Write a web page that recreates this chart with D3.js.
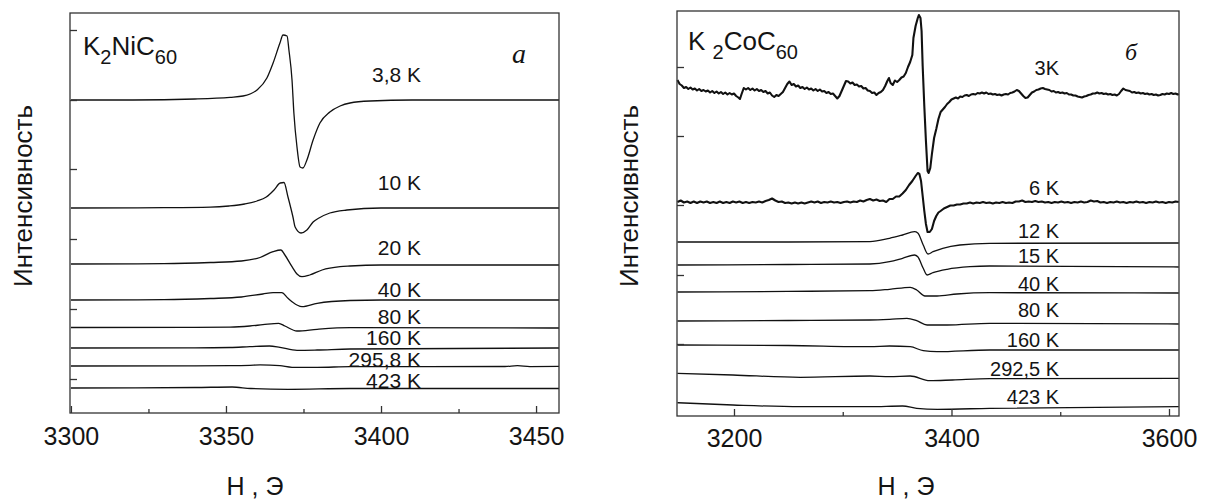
<!DOCTYPE html>
<html><head><meta charset="utf-8">
<script src="https://cdn.jsdelivr.net/npm/d3@7"></script>
<style>body{margin:0;background:#fff} svg{display:block}</style>
</head><body>
<svg id="c" width="1211" height="500"></svg>
<script>
// ---------- Panel a: K2NiC60 ----------
const niLabels = ["3,8 K","10 K","20 K","40 K","80 K","160 K","295,8 K","423 K"];
const ni_3_8 = [[3300,313],[3320,313],[3340,314],[3351.3,315.7],[3355.5,317],[3360,323],[3363.2,335],[3365.2,350],[3367.4,370],[3368.4,378],[3369.7,377],[3370.3,363],[3371.3,333],[3371.9,300],[3372.9,266],[3373.9,246],[3374.8,245],[3376.1,253],[3378.1,273],[3380.3,290],[3383.5,301],[3386.8,307],[3390,310],[3396.5,312],[3410,313],[3457.4,313]];
const ni_10 = [[3300,205],[3330,205.3],[3345,205.8],[3351,207],[3356,209],[3360,212],[3363,216],[3365.5,223],[3367.5,230],[3368.7,230.5],[3370,216],[3371.6,196],[3372.3,186],[3374.2,180],[3376.1,183],[3378.1,191],[3380,195],[3383.5,200],[3389,203],[3400,205],[3457.4,205]];
const ni_20 = [[3300,149],[3330,149.3],[3345,150.5],[3355,152],[3361,155.5],[3365.2,161.3],[3367.7,163],[3369,158],[3371.3,146.3],[3372.9,139],[3374.5,136.3],[3377,138],[3381,143],[3386.8,146.3],[3390,147],[3400,148],[3457.4,148]];
const ni_40 = [[3300,113],[3330,113.3],[3345,114.5],[3355,116],[3361.9,119],[3365.2,120.3],[3368,120.3],[3370,114.7],[3372.9,108],[3374.5,106.3],[3379.4,109.7],[3390,112.5],[3400,113],[3457.4,113]];
const ni_80 = [[3300,85.5],[3340,85.6],[3351.3,85.9],[3357.7,87],[3361.9,88.3],[3367,89.7],[3369,87],[3372.9,82],[3379.4,83.7],[3390,85.3],[3457.4,85]];
const ni_160 = [[3300,65],[3340,65.1],[3351.3,65.5],[3357.7,66.3],[3364,67],[3367.4,65.7],[3372.9,62.7],[3379.4,63],[3390,64],[3457.4,65]];
const ni_295 = [[3300,47],[3340,47.1],[3351.3,47.3],[3357.7,47.7],[3361,48.1],[3367.4,47.3],[3371.3,45.7],[3379.4,45.7],[3390,46.3],[3440,46.5],[3444,47.3],[3448,46.4],[3457.4,46.6]];
const ni_423 = [[3300,25],[3340,25.5],[3352,26],[3358,24.5],[3370,23.7],[3390,24.5],[3457.4,24.5]];
const niSeries = [ni_3_8, ni_10, ni_20, ni_40, ni_80, ni_160, ni_295, ni_423];
const niXTicks = [3300, 3350, 3400, 3450];
const niXMinor = [3325, 3375, 3425];
const niYTicks = [34, 104, 174, 244, 313, 383];

// ---------- Panel б: K2CoC60 ----------
const coLabels = ["3K","6 K","12 K","15 K","40 K","80 K","160 K","292,5 K","423 K"];
const co_3 = [[3148,336],[3150,332],[3152,330.5],[3154,328],[3156,329],[3158,327],[3160,328.5],[3162,326.5],[3164,327.5],[3166,325.5],[3168,327],[3170,325],[3172,326],[3174,324.5],[3176,325.5],[3178,323.5],[3180,325],[3182,323],[3184,324.5],[3186,322.5],[3188,324],[3190,322],[3192,323.5],[3194,321.5],[3196,323],[3198,321.5],[3200,322.5],[3202,320],[3204,318.5],[3205.5,317],[3207,322],[3209,328],[3211,326.5],[3213,328],[3215,326],[3217,327.5],[3219,325.5],[3221,327],[3223,325],[3225,326],[3227,324],[3229,325],[3231,322.5],[3233,323.5],[3235,320.5],[3237,319],[3239,321],[3241,320],[3243,322],[3245,324],[3247,328],[3249,332],[3251,334.5],[3253,331],[3255,332],[3257,329.5],[3259,330.5],[3261,328],[3263,329],[3265,327],[3267,328.5],[3269,326.5],[3271,327.5],[3273,325.5],[3275,327],[3277,325],[3279,326.5],[3281,324.5],[3283,325],[3285,323],[3287,324],[3289,322],[3291,322.5],[3293,320],[3295,317.5],[3297,320],[3299,325],[3301,330],[3303,335],[3305,334.5],[3307,332.5],[3309,333.5],[3311,331],[3313,331.5],[3315,329.5],[3317,330],[3319,327.5],[3321,328],[3323,325.5],[3325,325],[3327,323],[3329,323.5],[3331,321],[3333,323],[3335,324],[3337,326],[3339,330],[3341,335],[3342.5,338],[3344,333],[3346,331],[3348,335.5],[3350,334],[3352,336],[3354,338.5],[3356,339.5],[3358,343],[3360,349],[3362,354],[3364,361],[3365,378],[3367,390],[3369,398],[3370,401],[3371.5,398],[3372.5,385],[3373.5,350],[3375,310],[3376.5,275],[3378,245],[3379,243],[3380.5,248],[3382,262],[3384,278],[3386,287],[3388,297],[3390,304],[3392,306.5],[3394,309],[3396,312],[3398,314],[3400,316.5],[3402,317.5],[3404,318.5],[3406,317.5],[3408,319.5],[3410,319],[3412,320.5],[3414,321],[3416,320],[3418,321.5],[3420,322],[3422,321.5],[3424,323],[3426,322.5],[3428,323.5],[3430,322.5],[3432,323.5],[3434,322],[3436,322.5],[3438,321.5],[3440,322],[3442,321],[3444,321.5],[3446,320.5],[3448,321.5],[3450,322],[3452,321.5],[3454,323],[3456,323.5],[3458,324.5],[3460,326],[3462,325],[3464,322.5],[3466,320],[3468,318],[3470,318.5],[3472,321],[3474,323.5],[3476,324.5],[3478,326],[3480,326.5],[3482,327.5],[3484,328],[3486,327],[3488,326.5],[3490,326],[3492,324.5],[3494,325],[3496,323.5],[3498,324],[3500,323],[3502,323.5],[3504,322.5],[3506,323],[3508,321.5],[3510,321.5],[3512,320.5],[3514,320.5],[3516,319.5],[3518,319],[3520,318.5],[3522,319.5],[3524,320],[3526,321],[3528,321.5],[3530,322.5],[3532,322.5],[3534,323.5],[3536,322.5],[3538,323],[3540,322],[3542,322.5],[3544,321.5],[3546,322],[3548,321],[3550,321.5],[3552,320.5],[3554,322],[3556,325],[3558,327.5],[3560,326],[3562,325.5],[3564,325],[3566,323.5],[3568,324],[3570,323],[3572,323.5],[3574,322.5],[3576,323],[3578,322],[3580,322.5],[3582,321.5],[3584,322],[3586,321],[3588,321.5],[3590,320.5],[3592,321],[3594,322],[3596,321.5],[3598,322.5],[3600,322],[3602,323],[3604,322],[3606,322.5],[3608,321.5],[3609,322]];
const co_6 = [[3148,214],[3151,215.5],[3154,213.5],[3157,214.5],[3160,213],[3163,214.5],[3166,213],[3169,214.5],[3172,213.5],[3175,214.5],[3178,213],[3181,214],[3184,213],[3187,214.5],[3190,213],[3193,214],[3196,213],[3199,214.5],[3202,213.5],[3205,214.5],[3208,213],[3211,214],[3214,213],[3217,214],[3220,213.5],[3223,214.5],[3226,213.5],[3229,215],[3232,216],[3235,217.5],[3238,215.5],[3241,214],[3244,214.5],[3247,213],[3250,213.5],[3253,212.5],[3256,213.5],[3259,212.5],[3262,213.5],[3265,212.5],[3268,213.5],[3271,214.5],[3274,213.5],[3277,214.5],[3280,213],[3283,214],[3286,213.5],[3289,214.5],[3292,213.5],[3295,214],[3298,213],[3301,214],[3304,214.5],[3307,213.5],[3310,214.5],[3313,214],[3316,215.5],[3319,214.5],[3322,216],[3325,217],[3328,215.5],[3331,216.5],[3334,215],[3337,215.5],[3340,214],[3343,217],[3346,217],[3349,219.5],[3352,219.5],[3355,222.5],[3358,226],[3361,231],[3364,235],[3367,240],[3369,243],[3370.5,242],[3372,235],[3373.5,220],[3375,205],[3376.5,192],[3378,184],[3380,184],[3382,187],[3384,195],[3386,200],[3388,203.5],[3390,205],[3393,207.5],[3396,209],[3399,210.5],[3402,210.5],[3405,211.5],[3408,211.5],[3411,212.5],[3414,212.5],[3417,213.5],[3420,212.5],[3423,213.5],[3426,213],[3429,214],[3432,213],[3435,213.5],[3438,212.5],[3441,213.5],[3444,213],[3447,214],[3450,213],[3453,213.5],[3456,213],[3459,214.5],[3462,214.5],[3465,215.5],[3468,214],[3471,214.5],[3474,214],[3477,215],[3480,214],[3483,214.5],[3486,213.5],[3489,214],[3492,213],[3495,214],[3498,213.5],[3501,214.5],[3504,213.5],[3507,214],[3510,213],[3513,214],[3516,213.5],[3519,214.5],[3522,213.5],[3525,214],[3528,215.5],[3531,214.5],[3534,215],[3537,213.5],[3540,214],[3543,213],[3546,214],[3549,213.5],[3552,214.5],[3555,213.5],[3558,214],[3561,213],[3564,214],[3567,213.5],[3570,214.5],[3573,213.5],[3576,214],[3579,213],[3582,214],[3585,213.5],[3588,214.5],[3591,213.5],[3594,214],[3597,213],[3600,214],[3603,213.5],[3606,214.5],[3609,214]];
const co_12 = [[3148,174],[3250,174],[3325,174.3],[3343,177.7],[3355,181],[3366,184.3],[3369,183],[3374,171],[3378.4,162],[3383,164.3],[3392,167.7],[3407.7,171],[3435,172.7],[3609,173]];
const co_15 = [[3148,151],[3250,151.5],[3325,152],[3343,154.3],[3355,157.7],[3366,161],[3369,159.3],[3374,147.7],[3377.5,141],[3383,143.3],[3396,146.7],[3417,149.3],[3435,150],[3609,149]];
const co_40 = [[3148,124],[3250,124.6],[3325,125.3],[3343,126.7],[3362,128.7],[3368,126],[3375.6,120],[3386.7,120],[3405,122],[3435,123.3],[3609,123]];
const co_80 = [[3148,95],[3250,95.5],[3325,96],[3343,96.7],[3359,97.7],[3368,95.3],[3377.5,91],[3396,91],[3435,92.7],[3609,92]];
const co_160 = [[3148,71],[3250,70.5],[3325,69.3],[3343,70],[3362,69.3],[3374,65.3],[3386.7,64.3],[3435,66],[3609,66]];
const co_292 = [[3148,42.7],[3199,41],[3261,38.7],[3325,40],[3343,39.3],[3362,40],[3380,35.3],[3401,36],[3435,37.3],[3609,37.7]];
const co_423 = [[3148,13.3],[3199,11],[3261,9.3],[3325,9.3],[3355,10],[3368,7.7],[3387,6.7],[3435,7.7],[3609,9.3]];
const coSeries = [co_3, co_6, co_12, co_15, co_40, co_80, co_160, co_292, co_423];
const coXTicks = [3200, 3400, 3600];
const coXMinor = [3300, 3500];
const coYTicks = [72, 141, 211, 280, 349];

const FONT = "'Liberation Sans', Arial, Helvetica, sans-serif";
const INK = "#141414";
const svg = d3.select("#c");

function panel(cfg) {
  const x = d3.scaleLinear().domain(cfg.xDomain).range([cfg.left, cfg.right]);
  const y = d3.scaleLinear().domain(cfg.yDomain).range([cfg.bottom, cfg.top]);
  const g = svg.append("g");

  cfg.series.forEach((s, i) => {
    const noisy = cfg.noisy.includes(i);
    const line = d3.line().x(d => x(d[0])).y(d => y(d[1]))
      .curve(noisy ? d3.curveLinear : d3.curveMonotoneX);
    g.append("path").datum(s).attr("d", line)
      .attr("fill", "none").attr("stroke", "#111")
      .attr("stroke-width", noisy ? 2.1 : 1.3)
      .attr("stroke-linejoin", "round");
  });

  g.append("rect").attr("x", cfg.left).attr("y", cfg.top)
    .attr("width", cfg.right - cfg.left).attr("height", cfg.bottom - cfg.top)
    .attr("fill", "none").attr("stroke", "#333").attr("stroke-width", 1.3);

  const xa = g.append("g").attr("transform", `translate(0,${cfg.bottom})`)
    .call(d3.axisBottom(x).tickValues(cfg.xTicks).tickSize(-7).tickPadding(cfg.tickPad).tickFormat(d3.format("d")));
  xa.select(".domain").remove();
  xa.selectAll("line").attr("stroke", "#333").attr("stroke-width", 1.3);
  xa.selectAll("text").attr("font-family", FONT).attr("font-size", 25).attr("fill", INK);
  const xm = g.append("g").attr("transform", `translate(0,${cfg.bottom})`)
    .call(d3.axisBottom(x).tickValues(cfg.xMinor).tickSize(-4).tickFormat(""));
  xm.select(".domain").remove();
  xm.selectAll("line").attr("stroke", "#333").attr("stroke-width", 1.3);

  const ya = g.append("g").attr("transform", `translate(${cfg.left},0)`)
    .call(d3.axisLeft(y).tickValues(cfg.yTicks).tickSize(-7).tickFormat(""));
  ya.select(".domain").remove();
  ya.selectAll("line").attr("stroke", "#333").attr("stroke-width", 1.3);

  cfg.labels.forEach((t, i) => {
    g.append("text").attr("x", x(cfg.labelX)).attr("y", y(cfg.labelY[i]))
      .attr("text-anchor", "end").attr("font-family", FONT)
      .attr("font-size", cfg.labelSize).attr("fill", INK).text(t);
  });

  const tt = g.append("text").attr("x", cfg.titleX).attr("y", cfg.titleY)
    .attr("font-family", FONT).attr("font-size", 26).attr("fill", INK);
  cfg.title.forEach(p => {
    const ts = tt.append("tspan").text(p.t);
    if (p.sub) ts.attr("font-size", 20).attr("dy", 9);
    else if (p.after) ts.attr("dy", -9);
  });

  g.append("text").attr("x", cfg.letterX).attr("y", cfg.letterY)
    .attr("font-family", "'Liberation Serif', 'DejaVu Serif', serif")
    .attr("font-style", "italic").attr("font-size", cfg.letterSize)
    .attr("fill", INK).attr("text-anchor", "middle").text(cfg.letter);

  g.append("text").attr("x", cfg.xTitleX).attr("y", 495)
    .attr("text-anchor", "middle").attr("font-family", FONT)
    .attr("font-size", 25).attr("fill", INK).text("Н , Э");
  g.append("text")
    .attr("transform", `translate(${cfg.yTitleX},196) rotate(-90)`)
    .attr("text-anchor", "middle").attr("font-family", FONT)
    .attr("font-size", 26).attr("fill", INK).text("Интенсивность");
}

panel({
  left: 70, right: 559, top: 13, bottom: 413,
  xDomain: [3299.7, 3457.4], yDomain: [0, 400],
  series: niSeries, noisy: [], labels: niLabels,
  labelX: 3412.9, labelY: [331, 223, 158, 116, 89, 68, 46, 25], labelSize: 21,
  xTicks: niXTicks, xMinor: niXMinor, yTicks: niYTicks, tickPad: 14,
  title: [{t:"K"},{t:"2",sub:true},{t:"NiC",after:true},{t:"60",sub:true}],
  titleX: 83, titleY: 55,
  letter: "a", letterX: 519, letterY: 63, letterSize: 28,
  xTitleX: 255, yTitleX: 32
});

panel({
  left: 677, right: 1179, top: 11, bottom: 416,
  xDomain: [3147.6, 3609.2], yDomain: [0, 405],
  series: coSeries, noisy: [0, 1], labels: coLabels,
  labelX: 3498.9, labelY: [341, 221, 178, 153, 125, 99, 69, 40, 12], labelSize: 20,
  xTicks: coXTicks, xMinor: coXMinor, yTicks: coYTicks, tickPad: 13,
  title: [{t:"K "},{t:"2",sub:true},{t:"CoC",after:true},{t:"60",sub:true}],
  titleX: 688, titleY: 50,
  letter: "б", letterX: 1131, letterY: 60, letterSize: 24,
  xTitleX: 906, yTitleX: 638
});
</script>
</body></html>
